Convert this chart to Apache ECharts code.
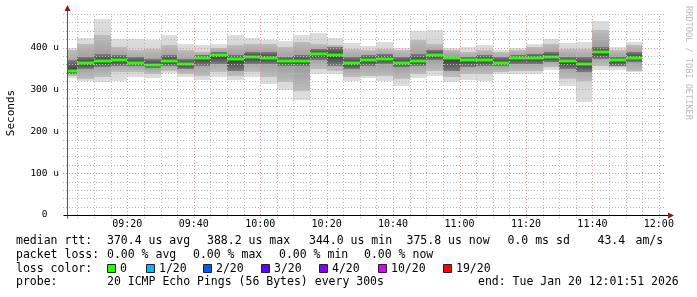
<!DOCTYPE html>
<html><head><meta charset="utf-8">
<script src="https://cdn.jsdelivr.net/npm/echarts@6/dist/echarts.min.js"></script>
<style>html,body{margin:0;padding:0;background:#fff}#c{width:697px;height:297px}</style>
</head><body><div id="c"></div>
<script>
// ---- data ----
const binEnd = ['09:05','09:10','09:15','09:20','09:25','09:30','09:35','09:40','09:45','09:50','09:55',
  '10:00','10:05','10:10','10:15','10:20','10:25','10:30','10:35','10:40','10:45','10:50','10:55',
  '11:00','11:05','11:10','11:15','11:20','11:25','11:30','11:35','11:40','11:45','11:50','11:55'];
const medianRtt = [344,364,368.5,371,364,358,368,360,376,383,372,378,374,368,368,385.5,383,364,369,372,364,367,383,375,369,371,363,375,375,377,367,361,388.2,369,375.8];
const pingMax  = [400,423,467,421,421,417,431,409,405,409,431,423,419,416,431,435,423,410,404,414,399,439,441,400,402,405,394,400,408,421,410,413,464,401,413];
const pingMin  = [328,319,317,321,329,326,338,330,323,330,322,330,313,298,275,337,337,320,326,321,307,327,333,317,322,319,336,336,337,347,309,269,347,347,341];
const midHi    = [393,409,429,401,394,397,405,394,389,399,405,409,409,401,413,409,405,397,393,397,393,417,409,393,389,393,389,393,401,409,397,397,441,393,405];
const midLo    = [333,325,329,341,341,337,345,337,333,341,333,341,329,317,297,349,345,329,333,333,325,337,345,329,337,337,341,345,345,353,325,321,357,353,345];
const coreHi   = [369,377,385,381,377,373,381,373,381,389,381,389,389,377,381,397,401,377,381,385,377,385,393,377,377,381,377,381,385,389,377,377,401,377,389];
const coreLo   = [337,349,353,357,355,351,357,349,357,361,345,361,361,357,357,369,357,349,357,361,353,357,369,345,353,357,355,361,361,365,349,341,373,357,365];
const yTicks = [0,100,200,300,400];
const xTickLabels = ['09:20','09:40','10:00','10:20','10:40','11:00','11:20','11:40','12:00'];
const startTime = '09:01:51', endTime = '12:01:51';
const statLines = [
  [['median rtt:',16],['370.4 us avg',107],['388.2 us max',207],['344.0 us min',309],['375.8 us now',406.5],['0.0 ms sd',507.5],['43.4',597.5],['am/s',635.5]],
  [['packet loss:',16],['0.00 % avg',107],['0.00 % max',193],['0.00 % min',279],['0.00 % now',364]],
  [['probe:',16],['20 ICMP Echo Pings (56 Bytes) every 300s',107],['end: Tue Jan 20 12:01:51 2026',478]]
];
const lossLabels = ['0','1/20','2/20','3/20','4/20','10/20','19/20'];
const lossColors = ['#26ff00','#00b8ff','#0059ff','#5e00ff','#7e00ff','#dd00ff','#ff0000'];
const lossBoxX = [107,146,203,261,319,378,443];

// ---- helpers ----
const toMin = s => { const p = s.split(':').map(Number); return p[0]*60 + p[1] + (p[2]||0)/60; };
const xMin = toMin(startTime), xMax = toMin(endTime);
const fmt = m => { const h = Math.floor(m/60), mm = Math.round(m%60); return String(h).padStart(2,'0')+':'+String(mm).padStart(2,'0'); };
const MONO = 'DejaVu Sans Mono';

const smokeData = binEnd.map((t,i) => {
  const e = toMin(t);
  return [e-5, e, pingMin[i], pingMax[i], midLo[i], midHi[i], coreLo[i], coreHi[i], medianRtt[i]];
});

const grad = (c0, c1) => ({type:'linear', x:0, y:0, x2:0, y2:1, colorStops:[{offset:0,color:c0},{offset:1,color:c1}]});

function renderSmoke(params, api) {
  const s = Math.max(api.value(0), xMin), e = api.value(1);
  const med = api.value(8);
  const px = v => Math.round(api.coord([s, v])[1]);
  const x0 = Math.round(api.coord([s, 0])[0]), x1 = Math.round(api.coord([e, 0])[0]);
  const pm = px(med);
  const band = (lo, hi, outerC, innerC) => {
    const yh = px(hi), yl = px(lo);
    return [
      {type:'rect', shape:{x:x0, y:yh, width:x1-x0, height:Math.max(0, pm-yh)}, style:{fill:grad(outerC, innerC)}},
      {type:'rect', shape:{x:x0, y:pm, width:x1-x0, height:Math.max(0, yl-pm)}, style:{fill:grad(innerC, outerC)}}
    ];
  };
  return {type:'group', children:[
    ...band(api.value(2), api.value(3), '#dedede', '#cbcbcb'),
    ...band(api.value(4), api.value(5), '#bdbdbd', '#959595'),
    ...band(api.value(6), api.value(7), '#7e7e7e', '#3a3a3a'),
    {type:'rect', z2: 10, shape:{x:x0, y:pm-1.5, width:x1-x0, height:3}, style:{fill:'#26ff00'}}
  ]};
}

function renderFrame(params, api) {
  const ch = [];
  const yTop = 480;
  const vStart = Math.ceil(xMin/5)*5;
  for (let t = vStart; t <= xMax; t += 5) {
    const a = api.coord([t, 0]), b = api.coord([t, yTop]);
    const x = Math.round(a[0]) + 0.5;
    ch.push({type:'line', shape:{x1:x, y1:a[1]+3, x2:x, y2:b[1]},
      style:{stroke: (t % 20 === 0) ? '#e39a9a' : '#bcbcbc', lineWidth:1, lineDash:[1,2]}});
  }
  for (let v = 20; v <= yTop; v += 20) {
    const a = api.coord([xMin, v]), b = api.coord([xMax, v]);
    const y = Math.round(a[1]) + 0.5;
    ch.push({type:'line', shape:{x1:a[0]-4, y1:y, x2:b[0], y2:y},
      style:{stroke: (v % 100 === 0) ? '#e39a9a' : '#bcbcbc', lineWidth:1, lineDash:[1,2]}});
  }
  const o = api.coord([xMin, 0]), tr = api.coord([xMax, yTop]);
  const ox = Math.round(o[0]) + 0.5, oy = Math.round(o[1]) + 0.5;
  ch.push({type:'line', shape:{x1:ox, y1:oy+3, x2:ox, y2:tr[1]-4}, style:{stroke:'#555', lineWidth:1}});
  ch.push({type:'line', shape:{x1:ox-4, y1:oy, x2:tr[0]+4, y2:oy}, style:{stroke:'#000', lineWidth:1}});
  ch.push({type:'polygon', shape:{points:[[ox-3, tr[1]-3],[ox+3, tr[1]-3],[ox, tr[1]-9]]}, style:{fill:'#8a1a1a'}});
  ch.push({type:'polygon', shape:{points:[[tr[0]+3, oy-3],[tr[0]+3, oy+3],[tr[0]+9, oy]]}, style:{fill:'#8a1a1a'}});
  return {type:'group', children: ch};
}

const graphics = [];
graphics.push({type:'text', x:11, y:113, rotation:Math.PI/2, style:{text:'Seconds', font:'11px '+MONO, fill:'#000', align:'center', verticalAlign:'middle'}});
graphics.push({type:'text', x:688.5, y:63, rotation:-Math.PI/2, style:{text:'RRDTOOL / TOBI OETIKER', font:'8.6px '+MONO, fill:'#bdbdbd', align:'center', verticalAlign:'middle'}});
const lineY = [241, 255, 282.3];
statLines.forEach((ln, li) => ln.forEach(([txt, x]) => {
  graphics.push({type:'text', x, y: lineY[li], style:{text:txt, font:'11.5px '+MONO, fill:'#000', align:'left', verticalAlign:'middle'}});
}));
graphics.push({type:'text', x:16, y:268.7, style:{text:'loss color:', font:'11.5px '+MONO, fill:'#000', align:'left', verticalAlign:'middle'}});
lossLabels.forEach((lab, i) => {
  graphics.push({type:'rect', shape:{x:lossBoxX[i]+0.5, y:264.5, width:8, height:8}, style:{fill:lossColors[i], stroke:'#222', lineWidth:1}});
  graphics.push({type:'text', x:lossBoxX[i]+13, y:268.7, style:{text:lab, font:'11.5px '+MONO, fill:'#000', align:'left', verticalAlign:'middle'}});
});

const chart = echarts.init(document.getElementById('c'), null, {renderer:'canvas'});
chart.setOption({
  animation:false,
  backgroundColor:'#fff',
  grid:{left:67, right:32, top:14, bottom:82},
  xAxis:{type:'value', min:xMin, max:xMax,
    axisLine:{show:false}, axisTick:{show:false}, splitLine:{show:false},
    axisLabel:{customValues: xTickLabels.map(toMin), formatter: v => fmt(v), fontFamily:MONO, fontSize:10, color:'#000', margin:3, lineHeight:12, showMinLabel:true, showMaxLabel:true}},
  yAxis:{type:'value', min:0, max:480,
    axisLine:{show:false}, axisTick:{show:false}, splitLine:{show:false},
    axisLabel:{customValues: yTicks, formatter: v => v === 0 ? '0  ' : v + ' u', fontFamily:MONO, fontSize:9.5, color:'#000', margin:8}},
  series:[
    {type:'custom', renderItem: renderSmoke, data: smokeData, z:1, encode:{x:[0,1], y:[2,3]}},
    {type:'custom', renderItem: renderFrame, data: [[xMin, 0]], z:2, clip:false, silent:true}
  ],
  graphic: graphics
});
</script>
</body></html>
